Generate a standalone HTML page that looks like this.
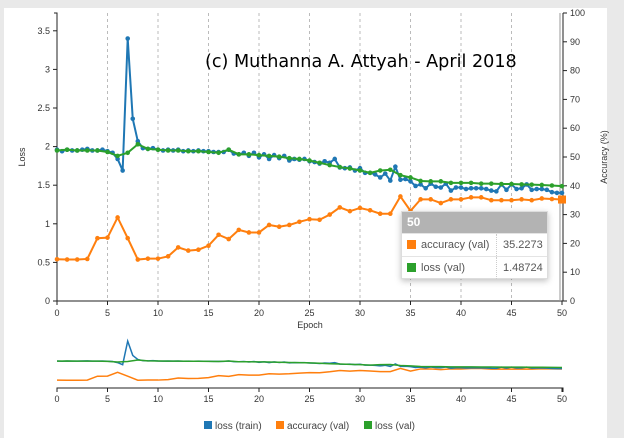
<!DOCTYPE html>
<html><head><meta charset="utf-8">
<style>
body{margin:0;background:#e9e9e9;width:624px;height:438px;overflow:hidden;font-family:"Liberation Sans",sans-serif}
#panel{position:absolute;left:4px;top:8px;width:603px;height:430px;background:#fff}
svg{position:absolute;left:0;top:0}
#tip{position:absolute;left:401px;top:211px;width:145px;height:66px;background:#fff;border:1px solid #ddd;box-shadow:0 2px 6px rgba(0,0,0,0.25);font-size:11px;color:#555}
#tip .h{background:#b3b3b3;color:#fff;font-weight:bold;height:21px;line-height:21px;padding-left:5px;font-size:12px}
#tip .r{height:22px;line-height:22px;border-top:1px solid #e4e4e4;position:relative}
#tip .sw{position:absolute;left:5px;top:6px;width:9px;height:9px}
#tip .l{position:absolute;left:19px}
#tip .v{position:absolute;left:94px;padding-left:6px;border-left:1px dotted #ccc;width:44px}
</style></head><body>
<div id="panel"></div>
<svg id="c" width="624" height="438"></svg>
<div id="tip">
<div class="h">50</div>
<div class="r"><span class="sw" style="background:#ff7f0e"></span><span class="l">accuracy (val)</span><span class="v">35.2273</span></div>
<div class="r"><span class="sw" style="background:#2ca02c"></span><span class="l">loss (val)</span><span class="v">1.48724</span></div>
</div>
<script>
const epochs=[];for(let i=0;i<=50;i++)epochs.push(i);
const trainEpochs=[];for(let i=0;i<=100;i++)trainEpochs.push(i/2);
const accVal=[14.5,14.4,14.4,14.6,21.8,22,29,21.8,14.4,14.7,14.7,15.5,18.6,17.5,17.8,19.2,23,21.5,24.7,23.8,23.8,26.4,25.8,26.4,27.5,28.4,28.2,30,32.5,31.2,32.3,31.5,30.3,30.3,36.3,31.3,35.3,35.3,34,35.3,35.3,36,36,35,35,35,35.3,35,35.6,35.4,35.2273];
const lossVal=[1.95,1.96,1.95,1.95,1.95,1.93,1.88,1.92,2.03,1.97,1.96,1.95,1.95,1.94,1.94,1.93,1.92,1.96,1.90,1.90,1.89,1.88,1.87,1.85,1.84,1.82,1.79,1.76,1.735,1.716,1.69,1.66,1.69,1.70,1.63,1.60,1.555,1.55,1.55,1.53,1.53,1.53,1.52,1.52,1.515,1.515,1.51,1.507,1.503,1.496,1.48724];
const lossTrain=[1.96,1.94,1.96,1.95,1.95,1.96,1.97,1.95,1.95,1.96,1.94,1.92,1.84,1.69,3.40,2.36,2.07,1.98,1.97,1.98,1.96,1.95,1.96,1.95,1.96,1.94,1.95,1.94,1.95,1.94,1.94,1.93,1.93,1.93,1.96,1.91,1.90,1.92,1.88,1.92,1.86,1.90,1.84,1.89,1.85,1.88,1.82,1.84,1.83,1.84,1.81,1.80,1.78,1.81,1.79,1.84,1.73,1.72,1.73,1.69,1.72,1.66,1.66,1.64,1.60,1.65,1.56,1.74,1.57,1.58,1.55,1.49,1.51,1.46,1.52,1.48,1.47,1.52,1.43,1.47,1.47,1.45,1.46,1.46,1.46,1.45,1.43,1.42,1.51,1.44,1.51,1.45,1.46,1.51,1.44,1.45,1.45,1.44,1.41,1.40,1.40];
const xTicks=[0,5,10,15,20,25,30,35,40,45,50];
const lossTicks=[0,0.5,1,1.5,2,2.5,3,3.5];
const accTicks=[0,10,20,30,40,50,60,70,80,90,100];
const svg=document.getElementById('c');const NS='http://www.w3.org/2000/svg';
function el(t,a,p){const e=document.createElementNS(NS,t);for(const k in a)e.setAttribute(k,a[k]);(p||svg).appendChild(e);return e;}
const X=v=>57+v*10.1;
const YL=v=>301-v*77.2;
const YA=v=>301-v*2.88;
const mX=v=>57+v*10.1;
const mYL=v=>388-v*13.8;
const mYA=v=>388-v*0.54;
xTicks.forEach(t=>{if(t>0&&t<50){const g=el('line',{x1:X(t),x2:X(t),y1:13,y2:301,stroke:'#bbb','stroke-dasharray':'3,3'});}});
let a=el('path',{d:'M54,13H57V301H563V13',fill:'none',stroke:'#222'});
el('line',{x1:560,x2:560,y1:13,y2:301,stroke:'#999'});
xTicks.forEach(t=>{el('line',{x1:X(t),x2:X(t),y1:301,y2:305,stroke:'#222'});const tx=el('text',{x:X(t),y:316,'font-size':9,fill:'#333','text-anchor':'middle'});tx.textContent=t;});
lossTicks.forEach(t=>{el('line',{x1:53,x2:57,y1:YL(t),y2:YL(t),stroke:'#222'});const tx=el('text',{x:50,y:YL(t)+3,'font-size':9,fill:'#333','text-anchor':'end'});tx.textContent=t;});
accTicks.forEach(t=>{el('line',{x1:563,x2:567,y1:YA(t),y2:YA(t),stroke:'#222'});const tx=el('text',{x:570,y:YA(t)+3,'font-size':9,fill:'#333'});tx.textContent=t;});
let t1=el('text',{x:310,y:328,'font-size':9,fill:'#333','text-anchor':'middle'});t1.textContent='Epoch';
let t2=el('text',{x:0,y:0,'font-size':9,fill:'#333','text-anchor':'middle',transform:'translate(25,157) rotate(-90)'});t2.textContent='Loss';
let t3=el('text',{x:0,y:0,'font-size':9,fill:'#333','text-anchor':'middle',transform:'translate(607,157) rotate(-90)'});t3.textContent='Accuracy (%)';
let t4=el('text',{x:205,y:67,'font-size':17.6,fill:'#000','font-family':'DejaVu Sans, sans-serif'});t4.textContent='(c) Muthanna A. Attyah - April 2018';
function series(xs,ys,fx,fy,col,name,dots,w){
 const p=el('polyline',{points:xs.map((x,i)=>fx(x)+','+fy(ys[i])).join(' '),fill:'none',stroke:col,'stroke-width':w});
 
 if(dots)xs.forEach((x,i)=>{const c=el('circle',{cx:fx(x),cy:fy(ys[i]),r:2.3,fill:col});});
}
series(epochs,accVal,X,YA,'#ff7f0e','accuracy-val',true,2);
series(trainEpochs,lossTrain,X,YL,'#1f77b4','loss-train',true,2);
series(epochs,lossVal,X,YL,'#2ca02c','loss-val',true,2);
let hm=el('rect',{x:X(50)-4,y:YA(accVal[50])-4,width:8,height:8,fill:'#ff7f0e'});
series(epochs,accVal,mX,mYA,'#ff7f0e','mini-accuracy-val',false,1.5);
series(trainEpochs,lossTrain,mX,mYL,'#1f77b4','mini-loss-train',false,1.5);
series(epochs,lossVal,mX,mYL,'#2ca02c','mini-loss-val',false,1.5);
let ma=el('path',{d:'M57,392V388H563V392',fill:'none',stroke:'#222'});
xTicks.forEach(t=>{el('line',{x1:mX(t),x2:mX(t),y1:388,y2:392,stroke:'#222'});const tx=el('text',{x:mX(t),y:402,'font-size':9,fill:'#333','text-anchor':'middle'});tx.textContent=t;});
const leg=[['loss (train)','#1f77b4',204],['accuracy (val)','#ff7f0e',276],['loss (val)','#2ca02c',364]];
leg.forEach(l=>{const g=el('g',{});el('rect',{x:l[2],y:421,width:8,height:8,fill:l[1]},g);const tx=el('text',{x:l[2]+11,y:429,'font-size':10,fill:'#444'},g);tx.textContent=l[0];});
</script>
</body></html>
